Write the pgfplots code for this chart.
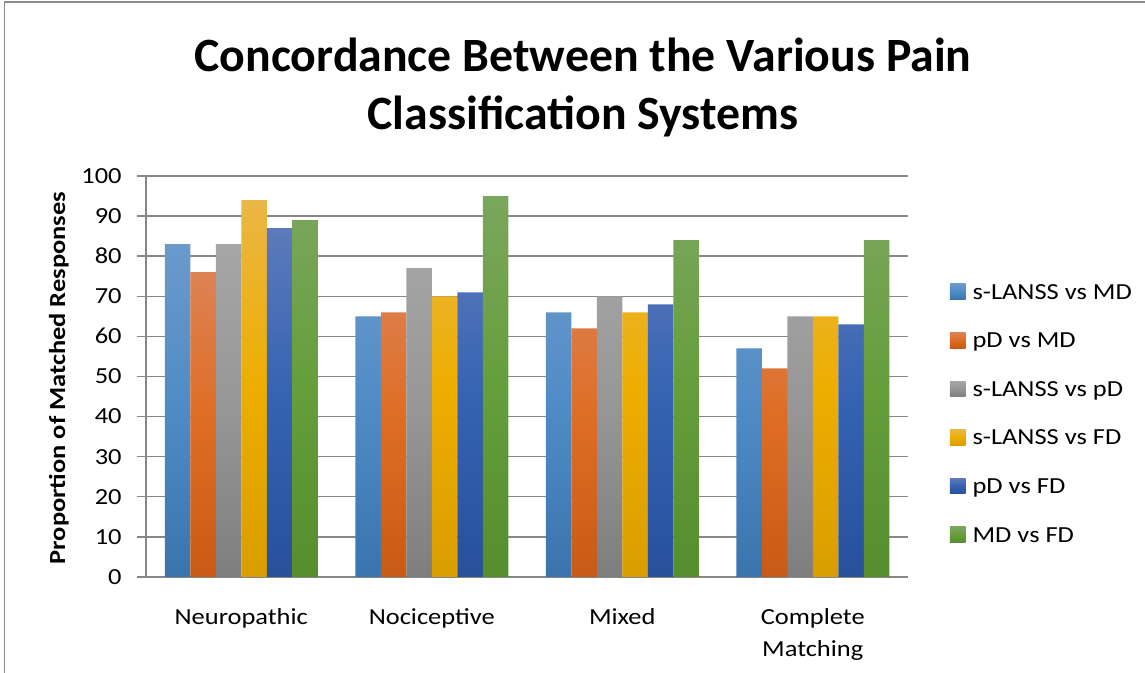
\documentclass[border=0pt]{standalone}
\usepackage{fontspec}
\setmainfont{Carlito}[FakeStretch=1.15]
\newfontfamily\titlefont{Carlito}
\usepackage{pgfplots}
\usepackage{pgfplotstable}
\pgfplotsset{compat=1.18}
\definecolor{c1t}{HTML}{6B9ACB}\definecolor{c1m}{HTML}{4E8BC5}\definecolor{c1b}{HTML}{3A74AD}
\definecolor{c2t}{HTML}{DD8254}\definecolor{c2m}{HTML}{DE6C22}\definecolor{c2b}{HTML}{C85A17}
\definecolor{c3t}{HTML}{A6A6A6}\definecolor{c3m}{HTML}{969696}\definecolor{c3b}{HTML}{7E7E7E}
\definecolor{c4t}{HTML}{EAB645}\definecolor{c4m}{HTML}{EDAE00}\definecolor{c4b}{HTML}{D99D00}
\definecolor{c5t}{HTML}{5C7ABB}\definecolor{c5m}{HTML}{3462B2}\definecolor{c5b}{HTML}{28509B}
\definecolor{c6t}{HTML}{7BA65E}\definecolor{c6m}{HTML}{659E3B}\definecolor{c6b}{HTML}{568D2E}
\definecolor{gridc}{HTML}{878787}
\definecolor{framec}{HTML}{8C8C8C}
\pgfplotstableread{
cat s1 s2 s3 s4 s5 s6
0 83 76 83 94 87 89
1 65 66 77 70 71 95
2 66 62 70 66 68 84
3 57 52 65 65 63 84
}\datatable
\begin{document}
\begin{tikzpicture}
\path[use as bounding box] (0,0) rectangle (572.5bp,336.5bp);
\draw[framec, line width=0.6bp] (2.3bp,0) -- (2.3bp,335.5bp) -- (572.5bp,335.5bp);
\node[anchor=base, inner sep=0pt, font=\titlefont\bfseries\fontsize{23.9bp}{28bp}\selectfont] at (291.5bp,300.6bp) {Concordance Between the Various Pain};
\node[anchor=base, inner sep=0pt, font=\titlefont\bfseries\fontsize{23.9bp}{28bp}\selectfont] at (291.5bp,271.5bp) {Classification Systems};
\begin{axis}[
  at={(73bp,48bp)}, anchor=south west, scale only axis,
  width=381bp, height=200.5bp,
  ybar=0pt, bar width=12.75bp,
  ymin=0, ymax=100, ytick={0,10,...,100},
  xmin=-0.5, xmax=3.5, xtick={0,1,2,3},
  enlargelimits=false,
  xticklabels={\rule{0pt}{8bp}Neuropathic,\rule{0pt}{8bp}Nociceptive,\rule{0pt}{8bp}Mixed,{\rule{0pt}{8bp}Complete\\Matching}},
  /pgf/number format/assume math mode=true,
  axis x line*=bottom, axis y line*=left,
  axis line style={gridc, line width=0.7bp, -},
  ymajorgrids, major grid style={gridc, line width=0.7bp},
  tick align=outside, major tick length=4.5bp,
  ytick style={gridc, line width=0.7bp},
  xtick style={draw=none},
  yticklabel style={font=\fontsize{11.5bp}{14bp}\selectfont, inner sep=0pt, text height=7.4bp, text depth=0pt, anchor=east, xshift=-7.5bp},
  xticklabel style={font=\fontsize{11.5bp}{16bp}\selectfont, inner sep=0pt, align=center, anchor=north, yshift=-11.2bp},
  ylabel={Proportion of Matched Responses},
  every axis y label/.style={at={(axis description cs:-0.1063,0.4963)}, anchor=base, rotate=90, font=\bfseries\fontsize{11.5bp}{14bp}\selectfont, inner sep=0pt},
  legend image code/.code={\path[#1] (0bp,-3.9bp) rectangle (7.8bp,3.9bp);},
  legend cell align=left,
  legend style={at={(axis description cs:1.0551,0.7309)}, anchor=north west, draw=none, fill=none, inner sep=0pt, outer sep=0pt, row sep=16.5bp, font=\fontsize{11.5bp}{13bp}\selectfont, nodes={inner sep=0pt, text height=7.4bp, text depth=0pt}, /tikz/every odd column/.append style={column sep=3.5bp}},
]
\addplot[draw=none, top color=c1t, bottom color=c1b, middle color=c1m] table[x=cat,y=s1] {\datatable};
\addplot[draw=none, top color=c2t, bottom color=c2b, middle color=c2m] table[x=cat,y=s2] {\datatable};
\addplot[draw=none, top color=c3t, bottom color=c3b, middle color=c3m] table[x=cat,y=s3] {\datatable};
\addplot[draw=none, top color=c4t, bottom color=c4b, middle color=c4m] table[x=cat,y=s4] {\datatable};
\addplot[draw=none, top color=c5t, bottom color=c5b, middle color=c5m] table[x=cat,y=s5] {\datatable};
\addplot[draw=none, top color=c6t, bottom color=c6b, middle color=c6m] table[x=cat,y=s6] {\datatable};
\legend{s-LANSS vs MD, pD vs MD, s-LANSS vs pD, s-LANSS vs FD, pD vs FD, MD vs FD}
\end{axis}
\end{tikzpicture}
\end{document}
